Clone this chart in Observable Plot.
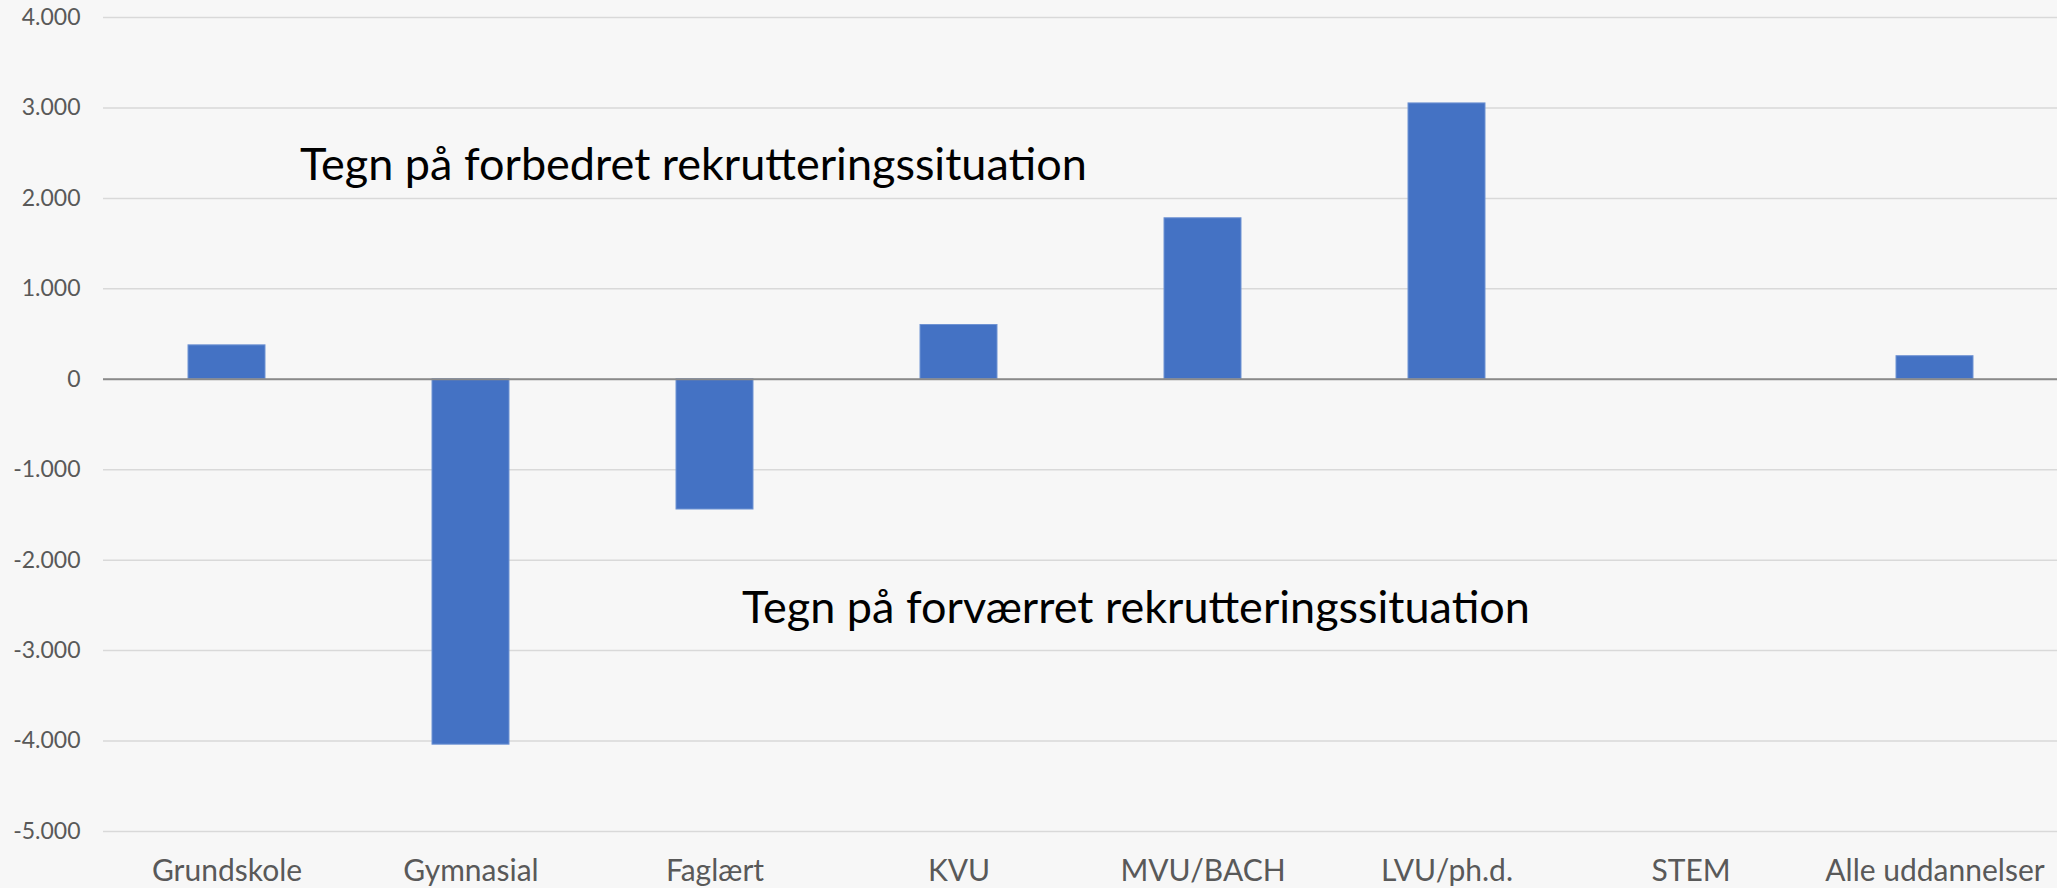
<!DOCTYPE html>
<html>
<head>
<meta charset="utf-8">
<script src="https://cdn.jsdelivr.net/npm/d3@7"></script>
<script src="https://cdn.jsdelivr.net/npm/@observablehq/plot@0.6"></script>
<style>
  html, body { margin: 0; padding: 0; background: #f7f7f7; }
  #chart svg { display: block; }
</style>
</head>
<body>
<div id="chart"></div>
<script>
const categories = ["Grundskole", "Gymnasial", "Faglært", "KVU", "MVU/BACH", "LVU/ph.d.", "STEM", "Alle uddannelser"];
const values = [375, -4040, -1440, 600, 1780, 3050, 0, 255];
const yTicks = [-5000, -4000, -3000, -2000, -1000, 0, 1000, 2000, 3000, 4000];
const annotationLabels = ["Tegn på forbedret rekrutteringssituation", "Tegn på forværret rekrutteringssituation"];
const annotationCategories = ["Grundskole", "Faglært"];
const annotationValues = [2360, -2540];
const annotationDx = [73, 27];

const data = categories.map((c, i) => ({category: c, value: values[i]}));
const notes = annotationLabels.map((t, i) => ({label: t, category: annotationCategories[i], value: annotationValues[i], dx: annotationDx[i]}));

const fmt = d => (d < 0 ? "-" : "") + String(Math.abs(d)).replace(/\B(?=(\d{3})+(?!\d))/g, ".");

const chart = Plot.plot({
  width: 2057,
  height: 888,
  marginLeft: 103,
  marginRight: 0,
  marginTop: 17,
  marginBottom: 57,
  style: {background: "#f7f7f7", fontFamily: "Lato, sans-serif"},
  x: {domain: categories, paddingInner: 0.685, paddingOuter: 0.3425, label: null},
  y: {domain: [-5000, 4000], label: null},
  marks: [
    Plot.gridY(yTicks, {stroke: "#d9d9d9", strokeOpacity: 1, strokeWidth: 1.5}),
    Plot.barY(data, {x: "category", y: "value", fill: "#4472c4", stroke: "#6f93d3", strokeWidth: 1}),
    Plot.ruleY([0], {stroke: "#8a8a8a", strokeWidth: 2}),
    Plot.axisY(yTicks, {tickSize: 0, tickPadding: 0, dx: -23, tickFormat: fmt, fontSize: 23, fill: "#595959", label: null}),
    Plot.axisX({tickSize: 0, tickPadding: 28, fontSize: 30, fill: "#595959", label: null}),
    ...notes.map(n => Plot.text([n], {x: "category", y: "value", text: "label", textAnchor: "start", dx: n.dx, fontSize: 45, fill: "#000000"}))
  ]
});
document.getElementById("chart").appendChild(chart);
</script>
</body>
</html>
